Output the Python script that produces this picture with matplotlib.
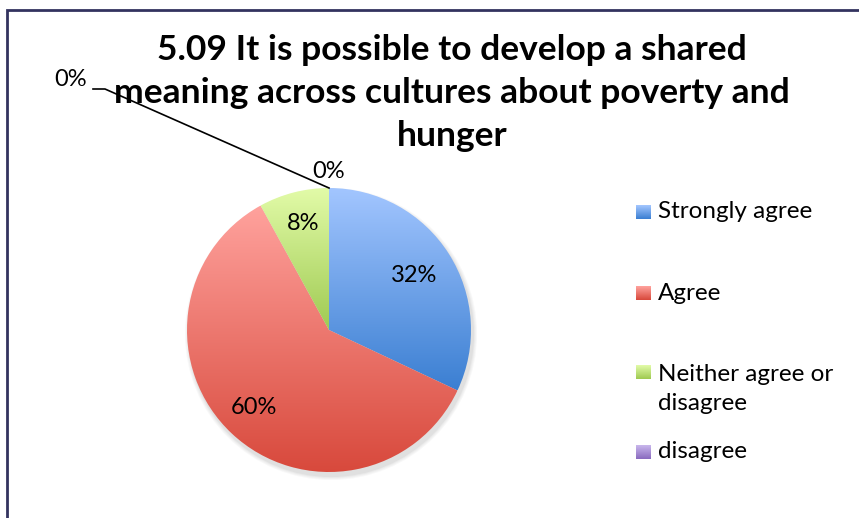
import numpy as np
import matplotlib
matplotlib.use('Agg')
import matplotlib.pyplot as plt
from matplotlib.colors import LinearSegmentedColormap

title = '5.09 It is possible to develop a shared\nmeaning across cultures about poverty and\nhunger'
categories = ['Strongly agree', 'Agree', 'Neither agree or\ndisagree', 'disagree', 'Strongly disagree']
values = [32, 60, 8, 0, 0]
pct_labels = ['32%', '60%', '8%', '0%', '0%']
legend_shown = 4

# top / bottom colour of each slice gradient
grad = [('#a3c6ff', '#3b7fd2'), ('#ffa29d', '#d8493c'), ('#e2fba8', '#9fca52'),
        ('#c8b6ec', '#8a6bbf'), ('#c8b6ec', '#8a6bbf')]

plt.rcParams['font.family'] = ['Lato', 'DejaVu Sans']

fig = plt.figure(figsize=(8.59, 5.18), dpi=100)
ax = fig.add_axes([0, 0, 1, 1])

cx, cy, r = 329, 518 - 330, 142

# soft shadow under the pie
for k, a in enumerate([0.05, 0.05, 0.06, 0.08]):
    ax.add_patch(plt.Circle((cx + 2, cy - 4), r + 4 - k, color='#777777', alpha=a, lw=0, zorder=1))

wedges, _ = ax.pie(values, center=(cx, cy), radius=r, startangle=90, counterclock=False,
                   frame=True, wedgeprops=dict(linewidth=0, zorder=2))

for w, (top, bot), v in zip(wedges, grad, values):
    if v == 0:
        continue
    w.set_facecolor('none')
    ext = w.get_path().get_extents()
    cmap = LinearSegmentedColormap.from_list('g', [top, bot])
    img = ax.imshow(np.linspace(0, 1, 256).reshape(-1, 1), cmap=cmap, aspect='auto',
                    extent=[ext.x0, ext.x1, ext.y0, ext.y1], origin='upper', zorder=3)
    img.set_clip_path(w)

# data labels
label_pos = [(414, 276), (254, 408), (303, 223), (329, 171), (71, 79)]
for (x, y), t in zip(label_pos, pct_labels):
    ax.text(x, 518 - y, t, fontsize=17, ha='center', va='center', zorder=5)
ax.plot([93, 105, 329], [518 - 89, 518 - 89, 518 - 188], color='black', lw=1.2, zorder=4)

ax.text(452, 518 - 93, title, fontsize=25.5, fontweight='bold', ha='center', va='center',
        linespacing=1.43, zorder=5)

# legend
leg_y = [212, 293, 389, 452]
for i in range(legend_shown):
    y = 518 - leg_y[i]
    top, bot = grad[i]
    cmap = LinearSegmentedColormap.from_list('g', [top, bot])
    yy = y + (17 if '\n' in categories[i] else 0)
    ax.imshow(np.linspace(0, 1, 32).reshape(-1, 1), cmap=cmap, aspect='auto',
              extent=[636, 651, yy - 7, yy + 7], origin='upper', zorder=5)
    ax.text(658, y, categories[i], fontsize=17.5, ha='left', va='center', linespacing=1.45, zorder=5)

ax.set_xlim(0, 859)
ax.set_ylim(0, 518)
ax.set_aspect('equal')
ax.axis('off')

# chart frame
ax.plot([6.5, 6.5, 859], [0, 518 - 10, 518 - 10], color='#33335f', lw=2, zorder=6,
        solid_joinstyle='miter')

fig.savefig('out.png', dpi=100)
